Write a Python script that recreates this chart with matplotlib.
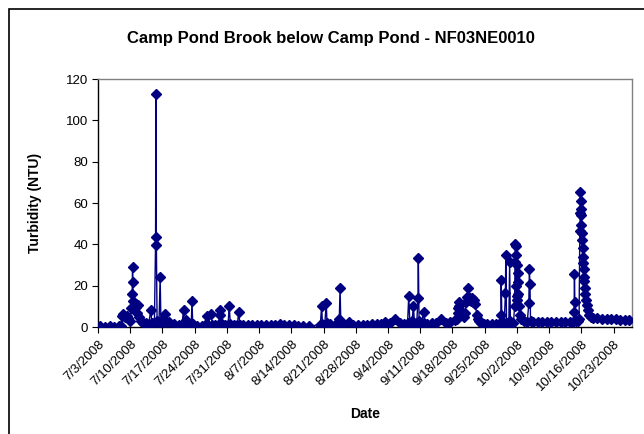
import matplotlib
matplotlib.use("Agg")
import matplotlib.pyplot as plt
from matplotlib.patches import Rectangle
import pandas as pd

plt.rcParams['font.family'] = ['Liberation Sans', 'DejaVu Sans']

# ---- data (timestamp "MM-DD HH", turbidity NTU) ----
jul_times = ["07-03 12", "07-04 12", "07-05 12", "07-06 12", "07-07 12", "07-08 00", "07-08 04", "07-08 12",
             "07-08 20", "07-09 06", "07-09 14", "07-10 00", "07-10 06", "07-10 10", "07-10 12", "07-10 14",
             "07-10 16", "07-10 20", "07-11 00", "07-11 04", "07-11 08", "07-11 12", "07-11 16", "07-11 20",
             "07-12 06", "07-12 18", "07-13 12", "07-14 00", "07-14 12", "07-14 16", "07-15 06", "07-15 12",
             "07-15 14", "07-15 16", "07-15 20", "07-16 06", "07-16 12", "07-16 16", "07-17 06", "07-17 14",
             "07-17 20", "07-18 12", "07-19 12", "07-20 12", "07-21 06", "07-21 14", "07-21 18", "07-22 04",
             "07-22 12", "07-23 06", "07-23 10", "07-23 14", "07-24 12", "07-25 12", "07-26 06", "07-26 14",
             "07-26 20", "07-27 14", "07-27 20", "07-28 12", "07-29 06", "07-29 12", "07-29 14", "07-29 20",
             "07-30 12", "07-31 06", "07-31 12", "07-31 18"]
jul_vals = [0.3, 0.2, 0.3, 0.2, 0.3, 0.5, 5.5, 6.5,
            5.0, 5.5, 4.5, 3.0, 9.0, 15.8, 29.2, 21.9,
            12.7, 8.5, 11.0, 9.8, 11.2, 7.0, 10.5, 5.0,
            3.0, 2.0, 2.0, 1.5, 8.4, 2.0, 2.0, 39.7,
            112.9, 43.7, 3.0, 2.0, 24.0, 3.0, 2.0, 6.1,
            2.5, 2.5, 1.5, 1.0, 1.0, 8.4, 1.5, 3.6,
            1.0, 1.0, 12.7, 1.5, 0.5, 0.5, 0.8, 5.2,
            1.0, 6.1, 1.0, 1.0, 1.5, 6.0, 8.4, 1.5,
            1.0, 1.0, 10.3, 1.5]

aug_times = ["08-01 12", "08-02 06", "08-02 14", "08-02 20", "08-03 12", "08-04 12", "08-05 12", "08-06 12",
             "08-07 12", "08-08 12", "08-09 12", "08-10 12", "08-11 12", "08-12 12", "08-13 12", "08-14 12",
             "08-15 12", "08-16 12", "08-17 22", "08-20 07", "08-20 14", "08-20 18", "08-21 06", "08-21 14",
             "08-21 18", "08-22 12", "08-23 12", "08-24 10", "08-24 14", "08-24 18", "08-25 12", "08-26 14",
             "08-27 12", "08-28 12", "08-29 12", "08-30 12", "08-31 12"]
aug_vals = [1.0, 1.0, 7.5, 1.0, 1.0, 0.8, 1.0, 0.8,
            1.0, 1.0, 0.8, 1.0, 1.5, 0.8, 1.0, 0.8,
            0.5, 0.5, 0.5, 1.0, 10.3, 1.5, 1.0, 11.5,
            2.0, 1.5, 1.0, 3.9, 18.9, 2.0, 1.5, 2.6,
            1.0, 1.0, 1.0, 1.0, 1.5]

sep_times = ["09-01 12", "09-02 12", "09-03 10", "09-03 20", "09-04 12", "09-05 14", "09-06 12", "09-07 12",
             "09-08 06", "09-08 12", "09-08 18", "09-09 06", "09-09 12", "09-09 18", "09-10 06", "09-10 12",
             "09-10 14", "09-10 18", "09-11 06", "09-11 17", "09-11 22", "09-12 12", "09-13 12", "09-14 12",
             "09-15 12", "09-16 12", "09-17 12", "09-18 12", "09-19 02", "09-19 04", "09-19 06", "09-19 08",
             "09-19 12", "09-19 18", "09-20 00", "09-20 06", "09-20 12", "09-20 18", "09-21 00", "09-21 06",
             "09-21 10", "09-21 15", "09-21 18", "09-22 00", "09-22 06", "09-22 12", "09-22 18", "09-23 00",
             "09-23 06", "09-23 12", "09-23 18", "09-24 06", "09-24 18", "09-25 12", "09-26 12", "09-27 12",
             "09-28 06", "09-28 12", "09-28 14", "09-28 18", "09-29 06", "09-29 12", "09-29 14", "09-29 18",
             "09-30 06", "09-30 10", "09-30 14"]
sep_vals = [1.5, 1.5, 2.6, 1.5, 2.0, 3.7, 2.0, 1.5,
            2.0, 15.0, 2.0, 3.0, 10.3, 2.0, 2.0, 14.0,
            33.2, 3.0, 2.0, 7.1, 2.0, 1.5, 2.0, 2.0,
            3.9, 2.0, 2.5, 3.4, 4.0, 6.6, 9.0, 12.3,
            10.0, 7.4, 6.0, 7.0, 5.0, 7.0, 12.0, 14.7,
            19.0, 13.0, 14.0, 12.5, 14.0, 12.0, 13.0, 11.0,
            6.0, 4.0, 3.0, 2.0, 1.5, 1.5, 1.5, 1.5,
            2.0, 6.0, 22.7, 2.0, 2.0, 16.3, 34.7, 2.0,
            2.0, 31.4, 3.0]

oct_times = ["10-01 06", "10-01 12", "10-01 14", "10-01 16", "10-01 17", "10-01 18", "10-01 20", "10-01 22",
             "10-02 00", "10-02 02", "10-02 04", "10-02 06", "10-02 08", "10-02 10", "10-02 14", "10-02 20",
             "10-03 12", "10-04 06", "10-04 14", "10-04 17", "10-04 20", "10-04 23", "10-05 12", "10-06 12",
             "10-07 12", "10-08 12", "10-09 12", "10-10 12", "10-11 12", "10-12 12", "10-13 12", "10-14 06",
             "10-14 10", "10-14 12", "10-14 14", "10-14 18", "10-15 06", "10-15 12", "10-15 16", "10-15 18",
             "10-15 19", "10-15 20", "10-15 21", "10-15 22", "10-16 00", "10-16 02", "10-16 04", "10-16 06",
             "10-16 08", "10-16 10", "10-16 12", "10-16 14", "10-16 16", "10-16 18", "10-16 20", "10-16 22",
             "10-17 04", "10-17 10", "10-17 16", "10-18 00", "10-18 12", "10-19 12", "10-20 12", "10-21 12",
             "10-22 12", "10-23 12", "10-24 12", "10-25 12", "10-26 06"]
oct_vals = [2.0, 10.0, 31.5, 40.1, 39.0, 35.0, 20.0, 15.0,
            13.0, 30.0, 26.0, 22.0, 15.8, 10.0, 6.0, 4.0,
            3.0, 2.5, 11.4, 27.9, 20.8, 3.0, 2.5, 2.5,
            2.5, 2.5, 2.5, 2.5, 2.5, 2.5, 2.5, 2.5,
            7.5, 25.5, 12.3, 3.0, 3.0, 4.0, 46.3, 55.0,
            65.2, 61.2, 57.0, 54.3, 49.5, 45.5, 42.0, 38.0,
            34.0, 31.2, 28.0, 24.0, 22.4, 19.0, 15.8, 13.0,
            10.5, 8.1, 5.7, 5.0, 4.5, 4.3, 4.0, 4.0,
            3.8, 3.7, 3.5, 3.5, 3.3]

tick_labels = ["7/3/2008", "7/10/2008", "7/17/2008", "7/24/2008", "7/31/2008", "8/7/2008", "8/14/2008",
               "8/21/2008", "8/28/2008", "9/4/2008", "9/11/2008", "9/18/2008", "9/25/2008", "10/2/2008",
               "10/9/2008", "10/16/2008", "10/23/2008"]

title = "Camp Pond Brook below Camp Pond - NF03NE0010"

times = jul_times + aug_times + sep_times + oct_times
vals = jul_vals + aug_vals + sep_vals + oct_vals
dt = pd.to_datetime(["2008-" + t + ":00" for t in times], format="%Y-%m-%d %H:%M")

color = "#000080"

fig = plt.figure(figsize=(6.44, 4.34), dpi=100)
ax = fig.add_axes([98 / 644, 1 - 327 / 434, (632 - 98) / 644, (327 - 79) / 434])

ax.plot(dt, vals, color=color, lw=1.0, marker="D", markersize=4.8,
        markerfacecolor=color, markeredgecolor=color, zorder=3)

tick_dates = pd.to_datetime(tick_labels, format="%m/%d/%Y")
ax.set_xticks(tick_dates)
ax.set_xticklabels(tick_labels, rotation=45, ha="right", va="top", rotation_mode="anchor", fontsize=9.5)
ax.set_xlim(pd.Timestamp("2008-07-03"), pd.Timestamp("2008-10-27"))
ax.set_ylim(0, 120)
ax.set_yticks(range(0, 121, 20))
ax.tick_params(axis="y", labelsize=9.5, direction="out", length=4, width=0.8, pad=3)
ax.tick_params(axis="x", direction="out", length=4, width=0.8, pad=4)

for s in ["left", "bottom"]:
    ax.spines[s].set_color("black")
    ax.spines[s].set_linewidth(1.0)
for s in ["top", "right"]:
    ax.spines[s].set_color("#808080")
    ax.spines[s].set_linewidth(1.0)

ax.set_ylabel("Turbidity (NTU)", fontsize=10, fontweight="bold")
ax.yaxis.set_label_coords(-0.105, 0.5)
ax.set_xlabel("Date", fontsize=10, fontweight="bold")
ax.xaxis.set_label_coords(0.5, -0.323)

fig.text(331 / 644, 1 - 39 / 434, title, ha="center", va="center", fontsize=12, fontweight="bold")

fig.patches.append(Rectangle((9 / 644, -0.1), 1.2, 1 - 9 / 434 + 0.1, transform=fig.transFigure,
                             fill=False, edgecolor="black", lw=1.2))

fig.savefig("out.png", dpi=100)
